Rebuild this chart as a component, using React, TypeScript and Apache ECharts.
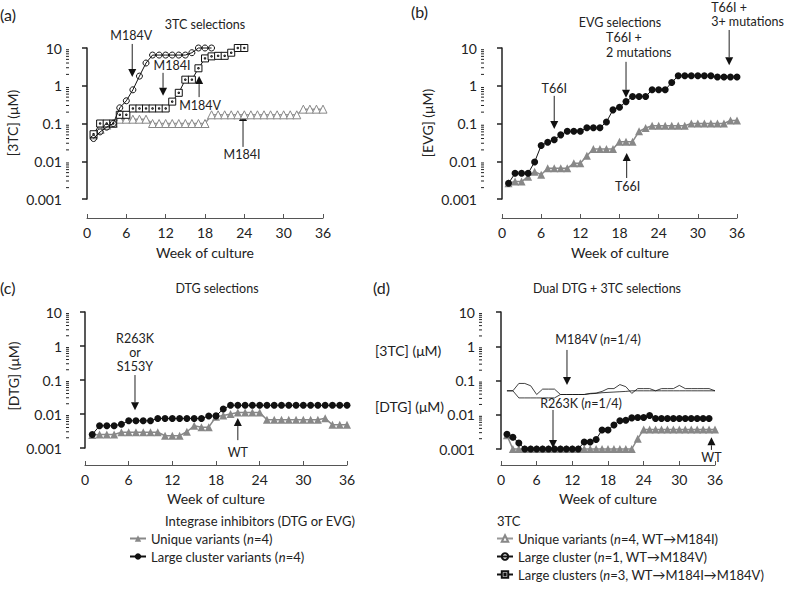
import React, { useEffect, useRef } from 'react';
import * as echarts from 'echarts';

const FONT = 'Lato, "Noto Sans", sans-serif';

const yTickLabels = ['0.001', '0.01', '0.1', '1', '10'];

// Panel (a) 3TC selections, weeks start at 1
const a_clusterN1 = [0.04, 0.06, 0.08, 0.1, 0.26, 0.4, 0.78, 1.8, 4, 6.5, 6.5, 6.5, 6.5, 6.5, 6.5, 7.5, 10, 10, 10];
const a_clustersN3 = [0.052, 0.1, 0.1, 0.1, 0.17, 0.17, 0.25, 0.25, 0.25, 0.25, 0.25, 0.25, 0.38, 0.65, 1.45, 1.45, 2.9, 5.3, 6, 6.2, 6.2, 7.5, 10, 10];
const a_unique = [0.05, 0.07, 0.09, 0.1, 0.13, 0.13, 0.13, 0.13, 0.13, 0.1, 0.1, 0.1, 0.1, 0.1, 0.1, 0.1, 0.1, 0.1,
  0.17, 0.17, 0.17, 0.17, 0.17, 0.17, 0.17, 0.17, 0.17, 0.17, 0.17, 0.17, 0.17, 0.17, 0.24, 0.24, 0.24, 0.24];

// Panel (b) EVG selections
const b_cluster = [0.0026, 0.0048, 0.0048, 0.0048, 0.0096, 0.026, 0.032, 0.037, 0.05, 0.062, 0.062, 0.062, 0.077, 0.077, 0.077, 0.11, 0.23, 0.27,
  0.38, 0.52, 0.52, 0.52, 0.78, 0.78, 0.78, 1.22, 1.84, 1.84, 1.84, 1.84, 1.84, 1.84, 1.7, 1.7, 1.7, 1.7];
const b_unique = [0.0026, 0.0029, 0.0029, 0.0039, 0.0053, 0.0044, 0.0065, 0.0065, 0.0065, 0.0065, 0.0089, 0.0089, 0.014, 0.021, 0.021, 0.021, 0.021, 0.033,
  0.033, 0.033, 0.062, 0.076, 0.087, 0.087, 0.087, 0.087, 0.087, 0.087, 0.1, 0.1, 0.1, 0.1, 0.1, 0.1, 0.12, 0.12];

// Panel (c) DTG selections
const c_cluster = [0.0025, 0.0045, 0.0045, 0.0045, 0.005, 0.0063, 0.0063, 0.0063, 0.0063, 0.0074, 0.0074, 0.0074, 0.0074, 0.0074, 0.0074, 0.0074, 0.0087, 0.0088,
  0.014, 0.018, 0.018, 0.018, 0.018, 0.018, 0.018, 0.018, 0.018, 0.018, 0.018, 0.018, 0.018, 0.018, 0.018, 0.018, 0.018, 0.018];
const c_unique = [0.0024, 0.0025, 0.0025, 0.0025, 0.0029, 0.0029, 0.0029, 0.0029, 0.0029, 0.0029, 0.0023, 0.0023, 0.0023, 0.003, 0.0045, 0.0041, 0.0041, 0.0083,
  0.009, 0.01, 0.011, 0.011, 0.011, 0.011, 0.0068, 0.0068, 0.0068, 0.0068, 0.0068, 0.0068, 0.0068, 0.0068, 0.0075, 0.0048, 0.0048, 0.0048];

// Panel (d) Dual DTG + 3TC selections
const d_cluster = [0.0027, 0.0022, 0.0015, 0.001, 0.001, 0.001, 0.001, 0.001, 0.001, 0.001, 0.001, 0.001, 0.001, 0.0016, 0.0016, 0.0019, 0.0036, 0.0036,
  0.005, 0.0067, 0.0069, 0.0081, 0.0083, 0.0083, 0.0095, 0.0078, 0.0078, 0.0078, 0.0078, 0.0078, 0.0078, 0.0078, 0.0078, 0.0078, 0.0078];
const d_unique = [0.0025, 0.001, 0.001, 0.001, 0.001, 0.001, 0.001, 0.001, 0.001, 0.001, 0.001, 0.001, 0.001, 0.001, 0.001, 0.001, 0.001, 0.001,
  0.001, 0.001, 0.001, 0.001, 0.002, 0.0037, 0.0037, 0.0037, 0.0037, 0.0037, 0.0037, 0.0037, 0.0037, 0.0037, 0.0037, 0.0037, 0.0037, 0.0037];
const d_3tcA = [0.05, 0.05, 0.082, 0.082, 0.07, 0.039, 0.056, 0.056, 0.056, 0.039, 0.039, 0.039, 0.039, 0.039, 0.042, 0.043, 0.048, 0.058,
  0.058, 0.076, 0.066, 0.042, 0.058, 0.058, 0.058, 0.05, 0.058, 0.058, 0.058, 0.072, 0.058, 0.058, 0.058, 0.058, 0.058, 0.05];
const d_3tcB = [0.05, 0.05, 0.031, 0.031, 0.031, 0.031, 0.031, 0.031, 0.031, 0.039, 0.039, 0.039, 0.039, 0.039, 0.041, 0.042, 0.044, 0.045,
  0.046, 0.047, 0.048, 0.05, 0.05, 0.05, 0.05, 0.05, 0.05, 0.05, 0.05, 0.05, 0.05, 0.05, 0.05, 0.05, 0.05, 0.05];

const minorTickValues = [0.001, 0.01, 0.1, 1].flatMap((d) => [2, 3, 4, 5, 6, 7, 8, 9].map((k) => k * d));

const N_UNIQ_INT = 'Unique variants (n=4)';
const N_CLUS_INT = 'Large cluster variants (n=4)';
const N_UNIQ_3TC = 'Unique variants (n=4, WT→M184I)';
const N_CLUS1_3TC = 'Large cluster (n=1, WT→M184V)';
const N_CLUS3_3TC = 'Large clusters (n=3, WT→M184I→M184V)';

const annotations = [
  { grid: 0, week: 6.9, tail: 12.8, tip: 1.7, lines: ['M184V'], dx: -1, dy: -8, align: 'center', lh: 15 },
  { grid: 0, week: 11.6, tail: 2.2, tip: 0.54, lines: ['M184I'], dx: 9, dy: -7, align: 'center', lh: 15 },
  { grid: 0, week: 17.1, tail: 0.5, tip: 1.8, lines: ['M184V'], dx: 1, dy: 8, align: 'center', lh: 15 },
  { grid: 0, week: 23.8, tail: 0.024, tip: 0.19, lines: ['M184I'], dx: -1, dy: 8, align: 'center', lh: 15 },
  { grid: 1, week: 8, tail: 0.54, tip: 0.071, lines: ['T66I'], dx: 0, dy: -7, align: 'center', lh: 15 },
  { grid: 1, week: 19, tail: 4.3, tip: 0.48, lines: ['T66I +', '2 mutations'], dx: -20, dy: -24, align: 'left', lh: 15 },
  { grid: 1, week: 34.8, tail: 30, tip: 3.5, lines: ['T66I +', '3+ mutations'], dx: -18, dy: -22, align: 'left', lh: 14 },
  { grid: 1, week: 19.1, tail: 0.0036, tip: 0.0166, lines: ['T66I'], dx: 1, dy: 9, align: 'center', lh: 15 },
  { grid: 2, week: 6.87, tail: 0.14, tip: 0.013, lines: ['R263K', 'or', 'S153Y'], dx: 0, dy: -37, align: 'center', lh: 14 },
  { grid: 2, week: 21, tail: 0.0017, tip: 0.0076, lines: ['WT'], dx: 0, dy: 12, align: 'center', lh: 15 },
  { grid: 3, week: 11.1, tail: 0.78, tip: 0.074, lines: ['M184V ({i|n}=1/4)'], dx: 31, dy: -10, align: 'center', lh: 15 },
  { grid: 3, week: 8.75, tail: 0.0138, tip: 0.00107, lines: ['R263K ({i|n}=1/4)'], dx: 28, dy: -6, align: 'center', lh: 15 },
  { grid: 3, week: 35.4, tail: 0.00094, tip: 0.0022, lines: ['WT'], dx: 0, dy: 8, align: 'center', lh: 15 },
];

const toXY = (vals: number[]) => vals.map((v, i) => [i + 1, v]);

export default function App() {
  const ref = useRef<HTMLDivElement>(null);
  useEffect(() => {
    document.body.style.margin = '0';
    const chart = echarts.init(ref.current!, null, { renderer: 'svg' });
    const grids = [
      { left: 87, top: 48, width: 236, height: 151 },
      { left: 502, top: 48, width: 235, height: 151 },
      { left: 85, top: 312, width: 262, height: 136 },
      { left: 501, top: 312, width: 214, height: 137 },
    ];
    const yOff = [18, 18, 16, 19];
    const xOff = [19, 19, 17, 16];
    const xAxes = grids.map((_, i) => ({
      type: 'value', gridIndex: i, min: 0, max: 36, interval: 6, offset: xOff[i],
      axisLine: { show: true, onZero: false, lineStyle: { color: '#555', width: 1 } },
      axisTick: { show: true, inside: true, length: 4, lineStyle: { color: '#555' } },
      axisLabel: { fontSize: 14, color: '#222', fontFamily: FONT, margin: 7 },
      splitLine: { show: false },
    }));
    const yAxes = grids.map((_, i) => ({
      type: 'log', logBase: 10, gridIndex: i, min: 0.001, max: 10, offset: yOff[i],
      axisLine: { show: true, lineStyle: { color: '#222', width: 1.5 } },
      axisTick: { show: true, length: 5, lineStyle: { color: '#222', width: 1.5 } },
      axisLabel: {
        fontSize: 14, color: '#222', fontFamily: FONT, margin: 7,
        formatter: (v: number) => yTickLabels[Math.round(Math.log10(v)) + 3],
      },
      splitLine: { show: false },
    }));
    const minorSeries = grids.map((_, g) => ({
      type: 'custom', xAxisIndex: g, yAxisIndex: g, silent: true, z: 1,
      data: minorTickValues.map((v) => [0, v]),
      renderItem: (params: any, api: any) => {
        const p = api.coord([0, api.value(1)]);
        const x = p[0] - yOff[g];
        return { type: 'line', shape: { x1: x - 3, y1: p[1], x2: x, y2: p[1] }, style: { stroke: '#222', lineWidth: 1 } };
      },
    }));
    const blackCircle = (g: number, vals: number[]) => ({
      name: N_CLUS_INT, type: 'line', xAxisIndex: g, yAxisIndex: g, data: toXY(vals), clip: false, z: 4,
      symbol: 'circle', symbolSize: 7,
      itemStyle: { color: '#111' }, lineStyle: { color: '#111', width: 1 },
    });
    const grayTri = (g: number, vals: number[]) => ({
      name: N_UNIQ_INT, type: 'line', xAxisIndex: g, yAxisIndex: g, data: toXY(vals), clip: false, z: 3,
      symbol: 'triangle', symbolSize: 8,
      itemStyle: { color: '#888' }, lineStyle: { color: '#888', width: 1.5 },
    });
    const series: any[] = [
      grayTri(1, b_unique), blackCircle(1, b_cluster),
      grayTri(2, c_unique), blackCircle(2, c_cluster),
      grayTri(3, d_unique), blackCircle(3, d_cluster),
      {
        name: '3TC a', type: 'line', xAxisIndex: 3, yAxisIndex: 3, data: toXY(d_3tcA), symbol: 'none', clip: false,
        lineStyle: { color: '#111', width: 0.8 },
      },
      {
        name: '3TC b', type: 'line', xAxisIndex: 3, yAxisIndex: 3, data: toXY(d_3tcB), symbol: 'none', clip: false,
        lineStyle: { color: '#111', width: 0.8 },
      },
      {
        name: N_UNIQ_3TC, type: 'line', xAxisIndex: 0, yAxisIndex: 0, data: toXY(a_unique), clip: false, z: 2,
        symbol: 'triangle', symbolSize: 8,
        itemStyle: { color: '#fff', borderColor: '#888', borderWidth: 1 }, lineStyle: { color: '#999', width: 1.5 },
      },
      {
        name: N_CLUS3_3TC, type: 'line', xAxisIndex: 0, yAxisIndex: 0, data: toXY(a_clustersN3), clip: false, z: 4,
        symbol: 'path://M0 0H10V10H0ZM4 4H6V6H4Z', symbolSize: 7,
        itemStyle: { color: '#fff', borderColor: '#111', borderWidth: 1 }, lineStyle: { color: '#111', width: 1 },
      },
      {
        name: N_CLUS1_3TC, type: 'line', xAxisIndex: 0, yAxisIndex: 0, data: toXY(a_clusterN1), clip: false, z: 5,
        symbol: 'circle', symbolSize: 6,
        itemStyle: { color: 'rgba(255,255,255,0)', borderColor: '#111', borderWidth: 1 }, lineStyle: { color: '#111', width: 1 },
      },
      ...minorSeries,
    ];
    const legendText = { fontSize: 13, color: '#222', fontFamily: FONT, lineHeight: 15, rich: { i: { fontStyle: 'italic', fontSize: 13, fontFamily: FONT, color: '#222' } } };
    const fmt = (name: string) => name.replace('(n=', '({i|n}=');
    chart.setOption({
      animation: false,
      backgroundColor: '#fff',
      grid: grids,
      xAxis: xAxes,
      yAxis: yAxes,
      legend: [
        {
          data: [N_UNIQ_INT, N_CLUS_INT], orient: 'vertical', left: 129, top: 531, padding: 0, itemWidth: 16, itemHeight: 8, itemGap: 3,
          selectedMode: false, textStyle: legendText, formatter: fmt,
        },
        {
          data: [N_UNIQ_3TC, N_CLUS1_3TC, N_CLUS3_3TC], orient: 'vertical', left: 496, top: 531, padding: 0, itemWidth: 16, itemHeight: 8, itemGap: 3,
          selectedMode: false, textStyle: legendText, formatter: fmt,
        },
      ],
      series,
    });

    const txt = (text: string, x: number, y: number, size: number, align = 'center', rotation = 0) => ({
      type: 'text', x, y, rotation, silent: true,
      style: {
        text, fontSize: size, fontFamily: FONT, fill: '#222', textAlign: align, textVerticalAlign: 'middle',
        rich: { i: { fontStyle: 'italic', fontSize: size, fontFamily: FONT, fill: '#222' } },
      },
    });
    const graphics: any[] = [
      txt('(a)', 0, 14, 16, 'left'), txt('(b)', 411, 11, 16, 'left'),
      txt('(c)', 0, 287, 16, 'left'), txt('(d)', 373, 287, 16, 'left'),
      txt('3TC selections', 205, 24, 12.5), txt('EVG selections', 620, 22, 12.5),
      txt('DTG selections', 217, 288, 12.5), txt('Dual DTG + 3TC selections', 607, 288, 12.5),
      txt('Week of culture', 205, 252, 14), txt('Week of culture', 620, 252, 14),
      txt('Week of culture', 216, 498, 14), txt('Week of culture', 608, 498, 14),
      txt('[3TC] (μM)', 12, 123, 14, 'center', Math.PI / 2),
      txt('[EVG] (μM)', 427, 123, 14, 'center', Math.PI / 2),
      txt('[DTG] (μM)', 13, 376, 14, 'center', Math.PI / 2),
      txt('[3TC] (μM)', 375, 350, 14, 'left'), txt('[DTG] (μM)', 375, 406, 14, 'left'),
      txt('Integrase inhibitors (DTG or EVG)', 165, 521, 13, 'left'),
      txt('3TC', 497, 521, 13, 'left'),
    ];
    annotations.forEach((a) => {
      const t = chart.convertToPixel({ gridIndex: a.grid } as any, [a.week, a.tail]) as number[];
      const h = chart.convertToPixel({ gridIndex: a.grid } as any, [a.week, a.tip]) as number[];
      const dir = Math.sign(h[1] - t[1]);
      const base = h[1] - dir * 8;
      graphics.push({ type: 'line', silent: true, shape: { x1: t[0], y1: t[1], x2: h[0], y2: base }, style: { stroke: '#222', lineWidth: 1 } });
      graphics.push({ type: 'polygon', silent: true, shape: { points: [[h[0], h[1]], [h[0] - 4, base], [h[0] + 4, base]] }, style: { fill: '#111' } });
      a.lines.forEach((line, k) => {
        graphics.push(txt(line, t[0] + a.dx, t[1] + a.dy + k * a.lh, 12.5, a.align));
      });
    });
    chart.setOption({ graphic: graphics });
    return () => chart.dispose();
  }, []);
  return <div ref={ref} style={{ width: 788, height: 590 }} />;
}
